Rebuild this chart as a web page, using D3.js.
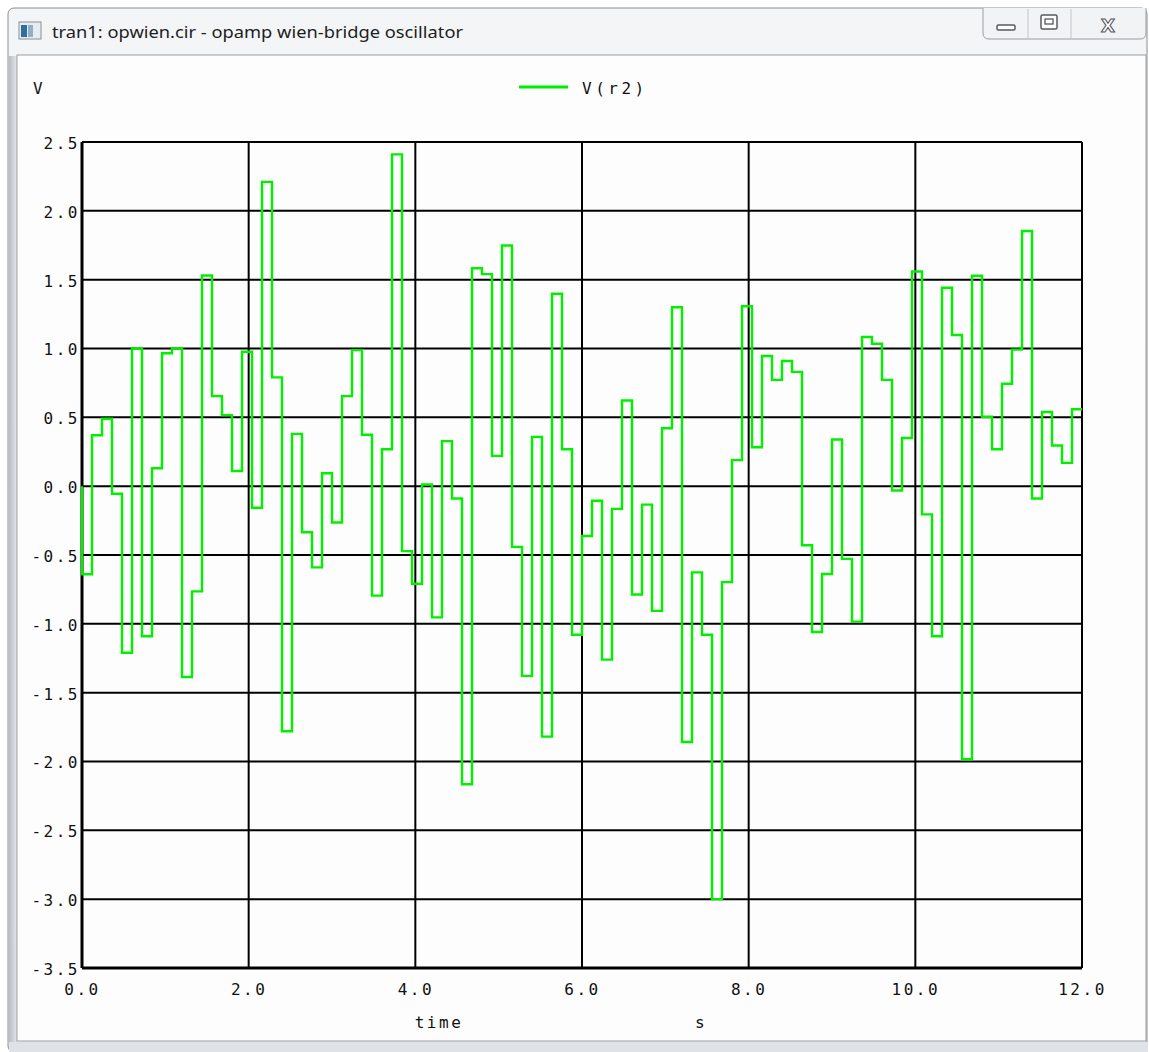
<!DOCTYPE html>
<html>
<head>
<meta charset="utf-8">
<script src="https://cdn.jsdelivr.net/npm/d3@7"></script>
<style>
  html, body { margin: 0; padding: 0; background: #ffffff; }
  svg { display: block; }
  .mono { font-family: "DejaVu Sans Mono", "Liberation Mono", monospace; font-size: 16px; letter-spacing: 2.5px; fill: #111; }
</style>
</head>
<body>
<div id="chart"></div>
<script>
// step times (s) and V(r2) values
const times = [0.00, 0.12, 0.24, 0.36, 0.48, 0.60, 0.72, 0.84, 0.96, 1.08,
  1.20, 1.32, 1.44, 1.56, 1.68, 1.80, 1.92, 2.04, 2.16, 2.28,
  2.40, 2.52, 2.64, 2.76, 2.88, 3.00, 3.12, 3.24, 3.36, 3.48,
  3.60, 3.72, 3.84, 3.96, 4.08, 4.20, 4.32, 4.44, 4.56, 4.68,
  4.80, 4.92, 5.04, 5.16, 5.28, 5.40, 5.52, 5.64, 5.76, 5.88,
  6.00, 6.12, 6.24, 6.36, 6.48, 6.60, 6.72, 6.84, 6.96, 7.08,
  7.20, 7.32, 7.44, 7.56, 7.68, 7.80, 7.92, 8.04, 8.16, 8.28,
  8.40, 8.52, 8.64, 8.76, 8.88, 9.00, 9.12, 9.24, 9.36, 9.48,
  9.60, 9.72, 9.84, 9.96, 10.08, 10.20, 10.32, 10.44, 10.56, 10.68,
  10.80, 10.92, 11.04, 11.16, 11.28, 11.40, 11.52, 11.64, 11.76, 11.88,
  12.00];

const vr2 = [-0.64, 0.37, 0.49, -0.055, -1.21, 1.00, -1.09, 0.13, 0.965, 1.00,
  -1.386, -0.764, 1.53, 0.654, 0.516, 0.11, 0.976, -0.157, 2.21, 0.79,
  -1.78, 0.38, -0.335, -0.59, 0.094, -0.264, 0.654, 0.988, 0.374, -0.795,
  0.268, 2.41, -0.472, -0.709, 0.012, -0.953, 0.327, -0.09, -2.165, 1.583,
  1.54, 0.22, 1.748, -0.441, -1.378, 0.358, -1.819, 1.398, 0.268, -1.079,
  -0.362, -0.106, -1.26, -0.165, 0.622, -0.787, -0.134, -0.906, 0.421, 1.30,
  -1.858, -0.626, -1.079, -3.00, -0.697, 0.189, 1.307, 0.283, 0.945, 0.772,
  0.909, 0.83, -0.429, -1.059, -0.638, 0.339, -0.528, -0.984, 1.083, 1.035,
  0.772, -0.031, 0.35, 1.559, -0.205, -1.09, 1.441, 1.098, -1.984, 1.528,
  0.504, 0.268, 0.744, 0.992, 1.854, -0.09, 0.539, 0.295, 0.169, 0.559];

const startValue = 0.0;
const xTicks = [0, 2, 4, 6, 8, 10, 12];
const yTicks = [-3.5, -3.0, -2.5, -2.0, -1.5, -1.0, -0.5, 0.0, 0.5, 1.0, 1.5, 2.0, 2.5];
const windowTitle = 'tran1: opwien.cir - opamp wien-bridge oscillator';
const seriesName = 'V(r2)';

(function () {
  const width = 1149, height = 1052;
  const svg = d3.select('#chart').append('svg').attr('width', width).attr('height', height);

  // --- window chrome ---
  const defs = svg.append('defs');
  const tg = defs.append('linearGradient').attr('id', 'frameGrad').attr('x1', 0).attr('y1', 0).attr('x2', 0).attr('y2', 1);
  tg.append('stop').attr('offset', '0%').attr('stop-color', '#f3f5f7');
  tg.append('stop').attr('offset', '100%').attr('stop-color', '#e9ecef');
  const side = defs.append('linearGradient').attr('id', 'sideGrad').attr('x1', 0).attr('y1', 0).attr('x2', 1).attr('y2', 0);
  side.append('stop').attr('offset', '0%').attr('stop-color', '#b9bdc2');
  side.append('stop').attr('offset', '100%').attr('stop-color', '#e4e7ea');

  svg.append('rect').attr('x', 8).attr('y', 8).attr('width', width - 10).attr('height', height - 8)
    .attr('rx', 6).attr('fill', 'url(#frameGrad)').attr('stroke', '#8c8f93').attr('stroke-width', 1);
  svg.append('rect').attr('x', 9).attr('y', 56).attr('width', 8).attr('height', height - 56).attr('fill', 'url(#sideGrad)');
  svg.append('rect').attr('x', 17).attr('y', 55).attr('width', 1129).attr('height', 986)
    .attr('fill', '#fdfdfd').attr('stroke', '#9a9da1').attr('stroke-width', 1);
  svg.append('rect').attr('x', 9).attr('y', 1042).attr('width', width - 10).attr('height', 10).attr('fill', '#dfe3e7');

  // app icon
  const icon = svg.append('g').attr('transform', 'translate(19,22)');
  icon.append('rect').attr('width', 22).attr('height', 17).attr('fill', '#e8ecf0').attr('stroke', '#8a9098');
  icon.append('rect').attr('x', 2).attr('y', 3).attr('width', 6).attr('height', 12).attr('fill', '#2f6f9a');
  icon.append('rect').attr('x', 9).attr('y', 3).attr('width', 5).attr('height', 12).attr('fill', '#8fb0c8');
  svg.append('text').attr('x', 52).attr('y', 38)
    .style('font-family', '"Noto Sans", "Open Sans", sans-serif').style('font-size', '17px').attr('fill', '#1e1e1e')
    .attr('textLength', 411).attr('lengthAdjust', 'spacingAndGlyphs')
    .text(windowTitle);

  // caption buttons
  const btn = svg.append('g');
  btn.append('path').attr('d', 'M983,8 L983,33 Q983,39 989,39 L1140,39 Q1146,39 1146,33 L1146,8')
    .attr('fill', '#f1f3f5').attr('stroke', '#9a9ea3');
  btn.append('line').attr('x1', 1028).attr('x2', 1028).attr('y1', 9).attr('y2', 38).attr('stroke', '#c3c6ca');
  btn.append('line').attr('x1', 1071).attr('x2', 1071).attr('y1', 9).attr('y2', 38).attr('stroke', '#c3c6ca');
  btn.append('rect').attr('x', 997).attr('y', 25).attr('width', 18).attr('height', 5).attr('rx', 1.5)
    .attr('fill', '#fff').attr('stroke', '#555a60').attr('stroke-width', 1.5);
  btn.append('rect').attr('x', 1041).attr('y', 15).attr('width', 16).attr('height', 14).attr('rx', 1.5)
    .attr('fill', '#fff').attr('stroke', '#555a60').attr('stroke-width', 1.5);
  btn.append('rect').attr('x', 1045).attr('y', 19).attr('width', 8).attr('height', 5)
    .attr('fill', 'none').attr('stroke', '#555a60').attr('stroke-width', 1.3);
  btn.append('text').attr('x', 1108).attr('y', 32).attr('text-anchor', 'middle')
    .style('font-family', '"DejaVu Sans", sans-serif').style('font-size', '18px').style('font-weight', 'bold')
    .attr('fill', '#fff').attr('stroke', '#555a60').attr('stroke-width', 1.1).text('X');

  // --- plot ---
  const margin = { top: 142, right: 67, bottom: 84, left: 82 };
  const innerW = width - margin.left - margin.right;
  const innerH = height - margin.top - margin.bottom;
  const g = svg.append('g').attr('transform', `translate(${margin.left},${margin.top})`);

  const x = d3.scaleLinear().domain([0, 12]).range([0, innerW]);
  const y = d3.scaleLinear().domain([-3.5, 2.5]).range([innerH, 0]);
  const fmt = d3.format('.1f');

  // grid
  g.append('g').selectAll('line').data(yTicks).join('line')
    .attr('x1', 0).attr('x2', innerW).attr('y1', d => y(d)).attr('y2', d => y(d))
    .attr('stroke', '#000').attr('stroke-width', 2);
  g.append('g').selectAll('line').data(xTicks).join('line')
    .attr('x1', d => x(d)).attr('x2', d => x(d)).attr('y1', 0).attr('y2', innerH)
    .attr('stroke', '#000').attr('stroke-width', d => (d === 0 ? 3 : 2));
  g.append('line').attr('x1', 0).attr('x2', innerW).attr('y1', innerH).attr('y2', innerH)
    .attr('stroke', '#000').attr('stroke-width', 3);

  // axes, labels only
  const yAxis = g.append('g').call(d3.axisLeft(y).tickValues(yTicks).tickFormat(d => fmt(d).replace('\u2212', '-')).tickSize(0).tickPadding(2));
  yAxis.select('.domain').remove();
  yAxis.selectAll('text').attr('class', 'mono').attr('dy', '0.4em');
  yAxis.attr('font-family', null).attr('font-size', null);

  const xAxis = g.append('g').attr('transform', `translate(0,${innerH})`)
    .call(d3.axisBottom(x).tickValues(xTicks).tickFormat(fmt).tickSize(0).tickPadding(16));
  xAxis.select('.domain').remove();
  xAxis.selectAll('text').attr('class', 'mono');
  xAxis.attr('font-family', null).attr('font-size', null);

  svg.append('text').attr('class', 'mono').attr('x', 439).attr('y', 1028).attr('text-anchor', 'middle').text('time');
  svg.append('text').attr('class', 'mono').attr('x', 701).attr('y', 1028).attr('text-anchor', 'middle').text('s');
  svg.append('text').attr('class', 'mono').attr('x', 33).attr('y', 94).text('V');

  // legend
  svg.append('line').attr('x1', 519).attr('x2', 568).attr('y1', 87).attr('y2', 87)
    .attr('stroke', '#00ee00').attr('stroke-width', 3);
  svg.append('text').attr('class', 'mono').attr('x', 582).attr('y', 94).style('letter-spacing', '3.5px').text(seriesName);

  // trace
  const points = [[0, startValue]].concat(vr2.map((v, i) => [times[i], v]), [[times[times.length - 1], vr2[vr2.length - 1]]]);
  const line = d3.line().x(d => x(d[0])).y(d => y(d[1])).curve(d3.curveStepAfter);
  g.append('path').datum(points).attr('d', line)
    .attr('fill', 'none').attr('stroke', '#00f000').attr('stroke-width', 2.4).attr('stroke-linejoin', 'miter');
})();
</script>
</body>
</html>
